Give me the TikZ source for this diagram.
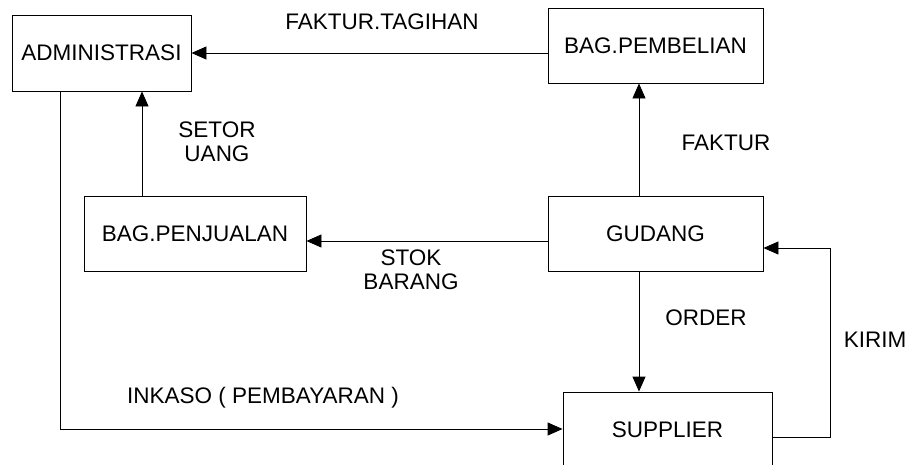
\documentclass[tikz,border=0pt]{standalone}
\usepackage{fontspec}
\setmainfont{Liberation Sans}
\usepackage{tikz}
\usetikzlibrary{positioning,calc,arrows.meta}

\tikzset{
    unit/.style={draw, line width=0.9pt, inner sep=0pt, font=\fontsize{22.5}{24}\selectfont},
    flow/.style={-{Triangle[length=15pt,width=13pt]}, line width=0.9pt},
    lbl/.style={inner sep=0pt, align=center, font=\fontsize{22.5}{24}\selectfont}
}

\begin{document}
\begin{tikzpicture}[x=1pt, y=-1pt]
    \path[use as bounding box, clip] (0,0) rectangle (913,464);

    % Boxes
    \node[unit, minimum width=179pt, minimum height=76pt] (admin) at (101.5,53) {ADMINISTRASI};
    \node[unit, minimum width=215pt, minimum height=75pt] (beli) at (655.5,45.5) {BAG.PEMBELIAN};
    \node[unit, minimum width=222pt, minimum height=75pt] (jual) at (195,233.5) {BAG.PENJUALAN};
    \node[unit, minimum width=215pt, minimum height=75pt] (gudang) at (655.5,233.5) {GUDANG};
    \node[unit, minimum width=209pt, minimum height=75pt] (supplier) at (667.5,429.5) {SUPPLIER};

    % Free corner points
    \coordinate (kirimpt) at (830,0);
    \coordinate (inkasopt) at (60,0);

    % Connectors
    \draw[flow] (beli.west |- admin.east) -- (admin.east);
    \draw[flow] (jual.north -| 142,0) -- (admin.south -| 142,0);
    \draw[flow] (gudang.west |- 0,241) -- (jual.east |- 0,241);
    \draw[flow] (gudang.north -| 639,0) -- (beli.south -| 639,0);
    \draw[flow] (gudang.south -| 639,0) -- (supplier.north -| 639,0);
    \draw[flow] (admin.south -| inkasopt) -- (inkasopt |- 0,429) -- (supplier.west |- 0,429);
    \draw[flow] (supplier.east |- 0,437) -- (kirimpt |- 0,437) -- (kirimpt |- 0,248) -- (gudang.east |- 0,248);

    % Labels
    \node[lbl] (tagihan) at (382,22) {FAKTUR.TAGIHAN};
    \node[lbl] (setor) at (217,142) {SETOR\\UANG};
    \node[lbl] (faktur) at (726,143) {FAKTUR};
    \node[lbl] (stok) at (411,270) {STOK\\BARANG};
    \node[lbl] (order) at (706,318) {ORDER};
    \node[lbl] (inkaso) at (263,398) {INKASO ( PEMBAYARAN )};
    \node[lbl] (kirim) at (875,340) {KIRIM};
\end{tikzpicture}
\end{document}
